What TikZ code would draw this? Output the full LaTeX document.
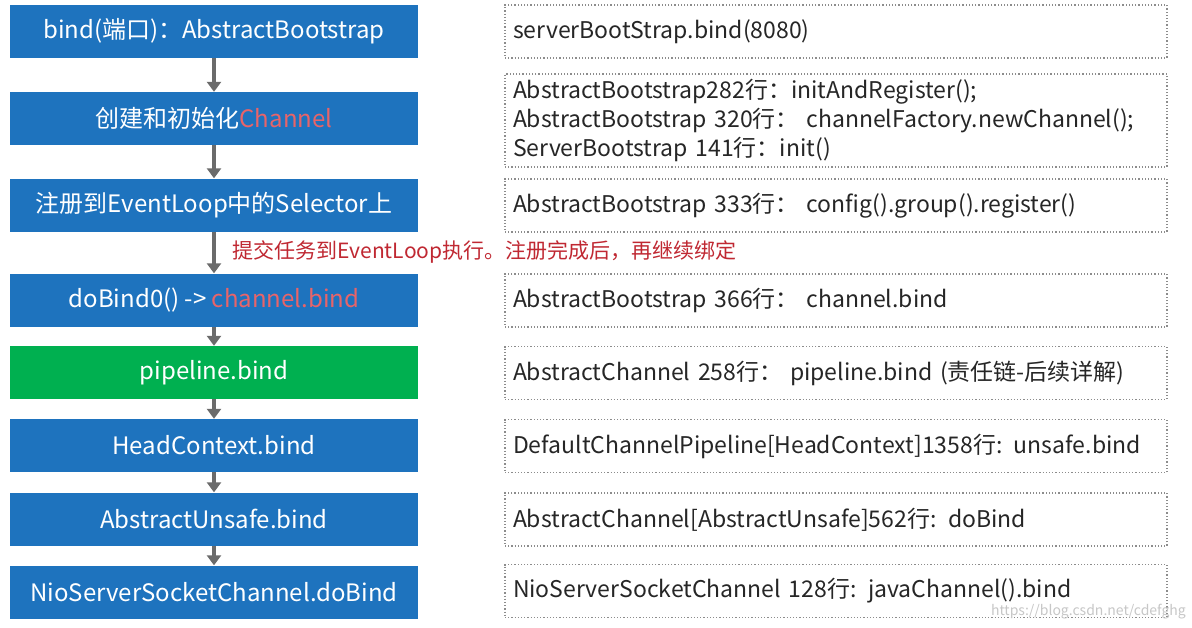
\documentclass[tikz,border=0pt]{standalone}
\usepackage{fontspec}
\setmainfont{Noto Sans CJK SC}
\usepackage{xcolor}
\usetikzlibrary{arrows.meta}
\definecolor{boxblue}{RGB}{30,115,190}
\definecolor{boxgreen}{RGB}{0,176,80}
\definecolor{chred}{RGB}{232,100,105}
\definecolor{labred}{RGB}{192,40,50}

\begin{document}
\begin{tikzpicture}[x=1pt,y=-1pt,
	stepblue/.style={fill=boxblue, text=white, minimum width=408pt, minimum height=53pt, inner sep=0pt, font=\fontsize{24}{28}\selectfont},
	stepgreen/.style={stepblue, fill=boxgreen},
	note/.style={draw=black!45, dotted, line width=1.2pt, text width=646pt, inner xsep=8pt, inner ysep=0pt, align=left, minimum height=53pt, text=black!85, font=\fontsize{23}{29}\selectfont},
	flow/.style={draw=black!58, line width=4pt, -{Triangle[width=14pt,length=10pt]}}]
\fill[white] (0,0) rectangle (1192,627);
\useasboundingbox (0,0) rectangle (1192,627);

\node[stepblue] (s1) at (214,31.5) {bind(端口)：AbstractBootstrap};
\node[stepblue] (s2) at (214,118.5) {创建和初始化\textcolor{chred}{Channel}};
\node[stepblue] (s3) at (214,205) {注册到EventLoop中的Selector上};
\node[stepblue] (s4) at (214,300) {doBind0() -> \textcolor{chred}{channel.bind}};
\node[stepgreen] (s5) at (214,372.5) {pipeline.bind};
\node[stepblue] (s6) at (214,445.5) {HeadContext.bind};
\node[stepblue] (s7) at (214,519) {AbstractUnsafe.bind};
\node[stepblue] (s8) at (214,592) {NioServerSocketChannel.doBind};

\foreach \a/\b in {s1/s2,s2/s3,s3/s4,s4/s5,s5/s6,s6/s7,s7/s8}{
	\draw[flow] (\a) -- (\b);
}

\node[anchor=west, text=labred, font=\fontsize{21}{24}\selectfont] (tip) at (229,252) {提交任务到EventLoop执行。注册完成后，再继续绑定};

\node[note] (n1) at (836,31.5) {serverBootStrap.bind(8080)};
\node[note, minimum height=93pt] (n2) at (836,120.5) {AbstractBootstrap282行：initAndRegister();\\AbstractBootstrap 320行：\ channelFactory.newChannel();\\ServerBootstrap 141行：init()};
\node[note] (n3) at (836,205.5) {AbstractBootstrap 333行：\ config().group().register()};
\node[note] (n4) at (836,300.5) {AbstractBootstrap 366行：\ channel.bind};
\node[note] (n5) at (836,373) {AbstractChannel 258行：\ pipeline.bind (责任链-后续详解)};
\node[note] (n6) at (836,446) {DefaultChannelPipeline[HeadContext]1358行: unsafe.bind};
\node[note] (n7) at (836,519.5) {AbstractChannel[AbstractUnsafe]562行: doBind};
\node[note] (n8) at (836,591) {NioServerSocketChannel 128行: javaChannel().bind};

\node[anchor=east, text=black!22, font=\fontsize{14}{16}\selectfont, inner sep=0pt] (wm) at (1186,612) {https://blog.csdn.net/cdefghg};

\end{tikzpicture}
\end{document}
